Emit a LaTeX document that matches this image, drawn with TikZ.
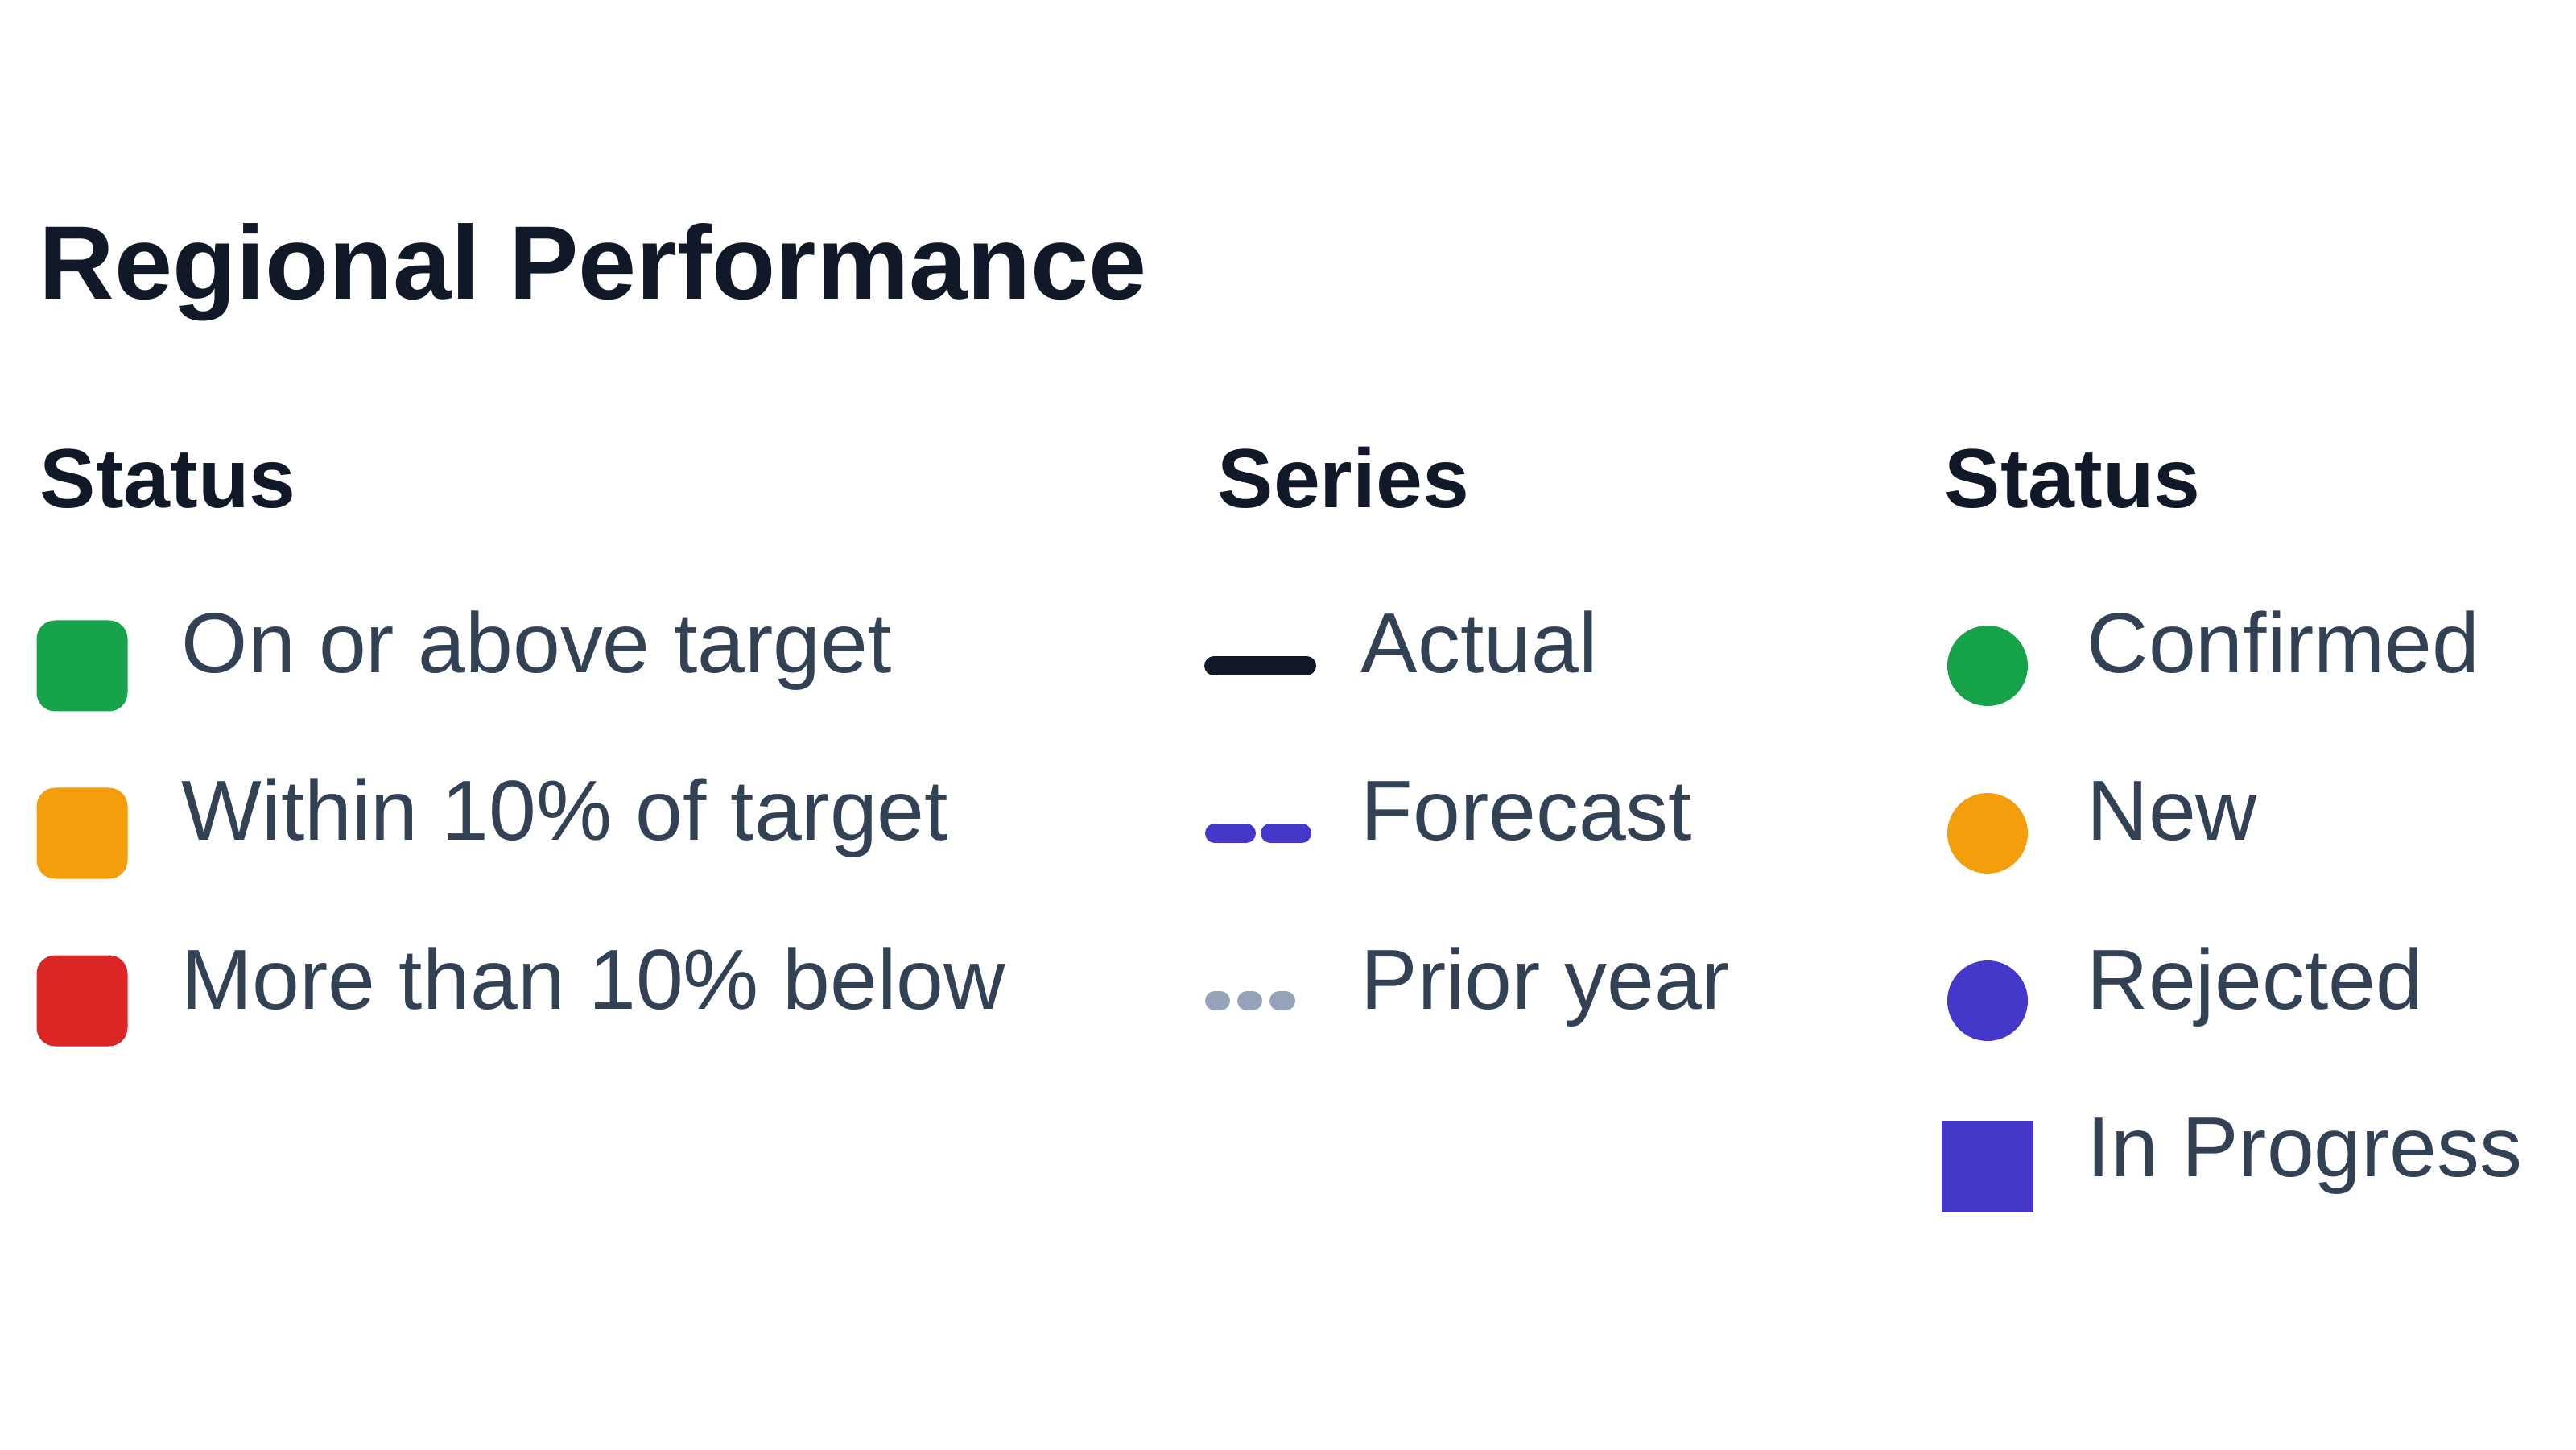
\documentclass[tikz,border=0pt]{standalone}
\usepackage{fontspec}
\setmainfont{Liberation Sans}
\definecolor{ink}{HTML}{111827}
\definecolor{slate}{HTML}{334155}
\definecolor{okgreen}{HTML}{16A34A}
\definecolor{warnamber}{HTML}{F59E0B}
\definecolor{badred}{HTML}{DC2626}
\definecolor{indigo}{HTML}{4338CA}
\definecolor{prior}{HTML}{94A3B8}
\begin{document}
\begin{tikzpicture}[
  head/.style={anchor=base west, inner sep=0, text=ink, font=\fontsize{29.6}{35}\selectfont\bfseries},
  item/.style={anchor=base west, inner sep=0, text=slate, font=\fontsize{30.1}{36}\selectfont},
  swatch/.style={rounded corners=0.23cm, minimum size=1.13cm, inner sep=0},
  dot/.style={circle, minimum size=1.0cm, inner sep=0},
  seg/.style={line width=0.24cm, line cap=round}]
  \useasboundingbox (0,0) rectangle (32,18);
  \node[anchor=base west, inner sep=0, text=ink, font=\fontsize{36.9}{44}\selectfont\bfseries] (title) at (0.48,14.28) {Regional Performance};
  % column headers
  \node[head] (hstatus) at (0.49,11.69) {Status};
  \node[head] (hseries) at (15.12,11.69) {Series};
  \node[head] (hmarks) at (24.15,11.69) {Status};
  % first column
  \node[swatch, fill=okgreen] (sgreen) at (1.02,9.73) {};
  \node[swatch, fill=warnamber] (samber) at (1.02,7.65) {};
  \node[swatch, fill=badred] (sred) at (1.02,5.57) {};
  \node[item] (tgreen) at (2.25,9.64) {On or above target};
  \node[item] (tamber) at (2.25,7.56) {Within 10\% of target};
  \node[item] (tred) at (2.25,5.47) {More than 10\% below};
  % second column
  \draw[seg, ink] (15.08,9.73) -- (16.23,9.73);
  \draw[seg, indigo] (15.09,7.65) -- (15.48,7.65);
  \draw[seg, indigo] (15.78,7.65) -- (16.17,7.65);
  \foreach \a/\b in {15.09/15.16, 15.49/15.56, 15.89/15.97}
    \draw[seg, prior] (\a,5.57) -- (\b,5.57);
  \node[item] (tactual) at (16.9,9.64) {Actual};
  \node[item] (tforecast) at (16.9,7.56) {Forecast};
  \node[item] (tprior) at (16.9,5.47) {Prior year};
  % third column
  \node[dot, fill=okgreen] (cconf) at (24.69,9.73) {};
  \node[dot, fill=warnamber] (cnew) at (24.69,7.65) {};
  \node[dot, fill=indigo] (crej) at (24.69,5.57) {};
  \node[minimum size=1.14cm, inner sep=0, fill=indigo] (sprog) at (24.69,3.51) {};
  \node[item] (tconf) at (25.92,9.64) {Confirmed};
  \node[item] (tnew) at (25.92,7.56) {New};
  \node[item] (trej) at (25.92,5.47) {Rejected};
  \node[item] (tprog) at (25.92,3.39) {In Progress};
\end{tikzpicture}
\end{document}
